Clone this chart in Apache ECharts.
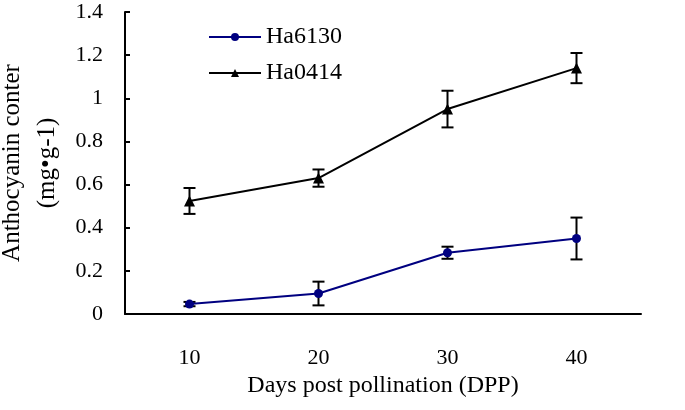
<!DOCTYPE html>
<html><head><meta charset="utf-8">
<script src="https://cdn.jsdelivr.net/npm/echarts@6/dist/echarts.min.js"></script>
<style>html,body{margin:0;padding:0;background:#fff}#c{width:685px;height:410px}</style>
</head><body><div id="c"></div>
<script>
var categories = ['10', '20', '30', '40'];
var ha6130 = [0.046, 0.095, 0.284, 0.35];
var ha6130Err = [0.01, 0.055, 0.028, 0.097];
var ha0414 = [0.524, 0.63, 0.95, 1.14];
var ha0414Err = [0.06, 0.04, 0.085, 0.07];
var yTicks = [0, 0.2, 0.4, 0.6, 0.8, 1, 1.2, 1.4];

var FONT = '"Liberation Serif", "Times New Roman", serif';
function errSeries(vals, errs) {
  return {
    type: 'custom', silent: true, z: 5,
    data: vals.map(function (v, i) { return [i, v - errs[i], v + errs[i]]; }),
    renderItem: function (params, api) {
      var lo = api.coord([api.value(0), api.value(1)]);
      var hi = api.coord([api.value(0), api.value(2)]);
      var w = 6;
      var st = { stroke: '#000', lineWidth: 2 };
      return { type: 'group', children: [
        { type: 'line', shape: { x1: lo[0], y1: lo[1], x2: hi[0], y2: hi[1] }, style: st },
        { type: 'line', shape: { x1: lo[0] - w, y1: lo[1], x2: lo[0] + w, y2: lo[1] }, style: st },
        { type: 'line', shape: { x1: hi[0] - w, y1: hi[1], x2: hi[0] + w, y2: hi[1] }, style: st }
      ]};
    }
  };
}
var chart = echarts.init(document.getElementById('c'));
chart.setOption({
  animation: false,
  textStyle: { fontFamily: FONT, color: '#000' },
  grid: { left: 125, right: 44, top: 12, bottom: 96, containLabel: false, outerBoundsMode: 'none' },
  legend: {
    orient: 'vertical', left: 203, top: 20, itemGap: 12,
    itemWidth: 52, itemHeight: 10,
    textStyle: { fontFamily: FONT, fontSize: 24, color: '#000' },
    data: ['Ha6130', 'Ha0414']
  },
  xAxis: {
    type: 'category', data: categories, boundaryGap: true,
    name: 'Days post pollination (DPP)', nameLocation: 'middle', nameGap: 58,
    nameTextStyle: { fontFamily: FONT, fontSize: 24, color: '#000' },
    axisLine: { lineStyle: { color: '#000', width: 2 } },
    axisTick: { inside: true, length: 6, lineStyle: { color: '#000', width: 2 } },
    axisLabel: { margin: 33, fontFamily: FONT, fontSize: 22, color: '#000' },
    splitLine: { show: false }
  },
  yAxis: {
    type: 'value', min: yTicks[0], max: yTicks[yTicks.length - 1], interval: 0.2,
    name: 'Anthocyanin conter\n(mg\u2022g-1)', nameLocation: 'middle', nameGap: 55,
    nameTextStyle: { fontFamily: FONT, fontSize: 25, color: '#000', lineHeight: 35 },
    axisLine: { show: true, lineStyle: { color: '#000', width: 2 } },
    axisTick: { show: true, inside: true, length: 5, lineStyle: { color: '#000', width: 2 } },
    axisLabel: { margin: 22, fontFamily: FONT, fontSize: 22, color: '#000',
      formatter: function (v) { return String(Math.round(v * 10) / 10); } },
    splitLine: { show: false }
  },
  series: [
    { name: 'Ha6130', type: 'line', data: ha6130, symbol: 'circle', symbolSize: 9,
      itemStyle: { color: '#000080' }, lineStyle: { color: '#000080', width: 2 }, z: 6 },
    { name: 'Ha0414', type: 'line', data: ha0414, symbol: 'triangle', symbolSize: 11,
      itemStyle: { color: '#000' }, lineStyle: { color: '#000', width: 2 }, z: 6 },
    errSeries(ha6130, ha6130Err),
    errSeries(ha0414, ha0414Err)
  ]
});
</script></body></html>
